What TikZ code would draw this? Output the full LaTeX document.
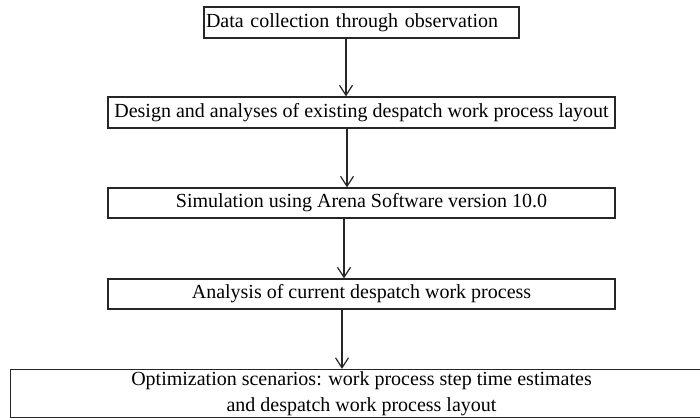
\documentclass[tikz,border=0pt]{standalone}
\usepackage{fontspec}
\setmainfont{Liberation Serif}
\usetikzlibrary{arrows.meta}
\begin{document}
\begin{tikzpicture}[x=0.5pt,y=-0.5pt,
  box/.style={draw=black!85, line width=0.65pt, inner sep=0pt, font=\fontsize{10}{13}\selectfont, text=black},
  arr/.style={draw=black!85, line width=0.6pt, -{Straight Barb[length=5pt,width=6.5pt,line width=0.6pt]}}]
\useasboundingbox (0,0) rectangle (700,419);
\node[box, minimum width=157.5pt, minimum height=15.5pt, text width=155.5pt, align=left, inner xsep=1pt] (b1) at (361.5,22.5) {Data collection through observation};
\node[box, minimum width=253.5pt, minimum height=15.5pt] (b2) at (361.5,112.5) {Design and analyses of existing despatch work process layout};
\node[box, minimum width=253.5pt, minimum height=15pt] (b3) at (361.5,203) {Simulation using Arena Software version 10.0};
\node[box, minimum width=253.5pt, minimum height=15pt] (b4) at (361.5,294) {Analysis of current despatch work process};
\node[box, minimum width=351pt, minimum height=24pt, align=center] (b5) at (361.5,393.5) {Optimization scenarios: work process step time estimates\\and despatch work process layout};
\coordinate (x1) at (346,0);
\coordinate (x2) at (347,0);
\coordinate (x3) at (344,0);
\coordinate (x4) at (342,0);
\draw[arr] (b1.south -| x1) -- (b2.north -| x1);
\draw[arr] (b2.south -| x2) -- (b3.north -| x2);
\draw[arr] (b3.south -| x3) -- (b4.north -| x3);
\draw[arr] (b4.south -| x4) -- (b5.north -| x4);
\end{tikzpicture}
\end{document}
